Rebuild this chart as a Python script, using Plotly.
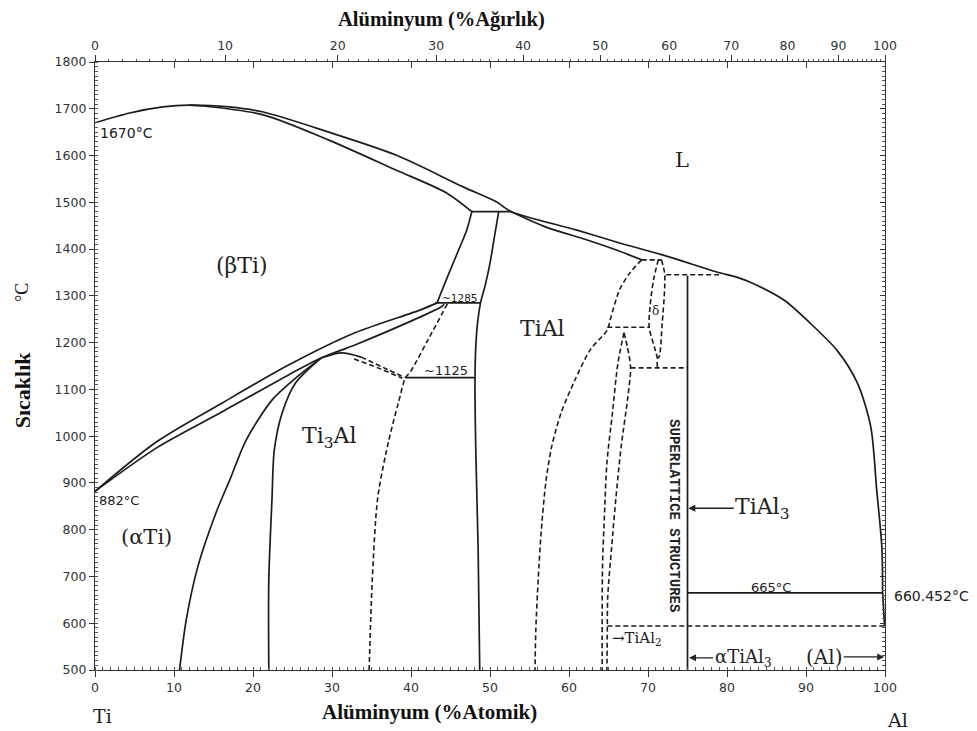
import plotly.graph_objects as go

# ---------------- data (at.% Al, temperature in C) ----------------
liq_x = [0, 4.4, 8.6, 11.9, 17.0, 21.3, 29.6, 38.1, 46.6, 50.8, 52.7, 60.9, 66.4, 72.35,
         78.7, 81.2, 82.8, 87.2, 90.5, 93.9, 96.5, 98.2, 98.95, 99.6, 99.7]
liq_T = [1670, 1691, 1704, 1708, 1704, 1693, 1650, 1601, 1533, 1501, 1480, 1441, 1413, 1385,
         1351, 1340, 1330, 1291, 1242, 1184, 1114, 1020, 885, 763, 665]

bsol_x = [11.9, 13.7, 21.3, 29.6, 38.1, 44.5, 47.7]
bsol_T = [1708, 1706, 1687, 1633, 1569, 1520, 1480]

peri_x = [47.7, 52.7]
peri_T = [1480, 1480]

asol_x = [52.7, 57.1, 62.2, 66.0, 69.2]
asol_T = [1480, 1447, 1420, 1398, 1377]

h1377_x = [69.2, 71.7]
h1377_T = [1377, 1377]

dl_x = [71.3, 70.7, 70.25, 70.15, 70.8, 71.2]
dl_T = [1377, 1334, 1276, 1233, 1191, 1167]

dr_x = [71.7, 72.1, 72.1, 71.8, 71.4, 71.2, 71.2]
dr_T = [1377, 1349, 1313, 1242, 1169, 1167, 1146]

h1345_x = [72.3, 79.0]
h1345_T = [1345, 1345]

tial3_x = [75, 75]
tial3_T = [1343, 500]

h1150_x = [67.8, 75]
h1150_T = [1146, 1146]

h1233_x = [64.85, 70.15]
h1233_T = [1233, 1233]

tialr_x = [69.2, 67.7, 66.4, 65.2, 64.85, 62.7, 60.75, 59.0, 57.8, 57.1, 56.5, 56.1, 55.8, 55.7]
tialr_T = [1377, 1349, 1313, 1248, 1227, 1185, 1120, 1050, 977, 906, 800, 693, 586, 500]

t2l_x = [66.96, 66.2, 65.5, 64.8, 64.5, 64.25, 64.2, 64.2]
t2l_T = [1221, 1157, 1050, 943, 836, 729, 622, 500]

t2r_x = [66.96, 67.4, 67.8, 67.45, 66.6, 65.95, 65.4, 64.9, 64.85, 64.8]
t2r_T = [1221, 1190, 1146, 1084, 977, 870, 763, 656, 586, 500]

h594_x = [64.85, 100]
h594_T = [594, 594]

h665_x = [75, 99.7]
h665_T = [665, 665]

alsolv_x = [99.7, 99.95]
alsolv_T = [665, 594]

aup_x = [47.7, 47.06, 46.2, 44.6, 43.7, 43.3]
aup_T = [1480, 1441, 1405, 1340, 1302, 1285]

h1285_x = [43.1, 48.8]
h1285_T = [1285, 1285]

tiall_x = [51.1, 50.5, 50.0, 49.4, 48.8, 48.4, 48.2, 48.1, 48.2, 48.5, 48.7]
tiall_T = [1480, 1420, 1370, 1323, 1285, 1238, 1191, 1120, 970, 757, 500]

h1125_x = [39.3, 48.1]
h1125_T = [1125, 1125]

a2d_x = [44.6, 42.15, 39.9, 39.3, 38.4, 37.2, 35.8, 35.1, 34.7]
a2d_T = [1283, 1206, 1137, 1125, 1071, 992, 870, 693, 500]

btr_x = [0, 7.8, 16.1, 24.5, 32.9, 41.2, 43.3]
btr_T = [882, 988, 1071, 1152, 1221, 1270, 1285]

atr_x = [0, 7.8, 16.1, 24.5, 28.6, 32.9, 41.2, 43.8, 44.2]
atr_T = [882, 975, 1052, 1131, 1167, 1195, 1255, 1276, 1282]

dome_x = [28.6, 31.2, 33.7]
dome_T = [1167, 1178, 1169]

domed1_x = [33.7, 37.1, 39.3]
domed1_T = [1169, 1142, 1125]

domed2_x = [32.8, 35.8, 38.9]
domed2_T = [1165, 1146, 1124]

a2l_x = [28.6, 25.6, 22.4, 19.15, 17.05, 15.45, 13.0, 11.55, 10.7]
a2l_T = [1167, 1127, 1077, 992, 906, 842, 720, 607, 500]

a2r_x = [28.6, 25.4, 23.7, 22.7, 22.4, 22.0, 22.0]
a2r_T = [1167, 1114, 1050, 971, 864, 693, 500]

solid_lines = [(liq_x, liq_T), (bsol_x, bsol_T), (peri_x, peri_T), (asol_x, asol_T),
               (tial3_x, tial3_T), (h665_x, h665_T), (alsolv_x, alsolv_T),
               (aup_x, aup_T), (h1285_x, h1285_T), (tiall_x, tiall_T), (h1125_x, h1125_T),
               (btr_x, btr_T), (atr_x, atr_T), (dome_x, dome_T), (a2l_x, a2l_T), (a2r_x, a2r_T)]
dashed_lines = [(h1377_x, h1377_T), (dl_x, dl_T), (dr_x, dr_T), (h1345_x, h1345_T),
                (h1150_x, h1150_T), (h1233_x, h1233_T), (tialr_x, tialr_T),
                (t2l_x, t2l_T), (t2r_x, t2r_T), (h594_x, h594_T), (a2d_x, a2d_T),
                (domed1_x, domed1_T), (domed2_x, domed2_T)]

# top axis: weight % Al
wt_major = list(range(0, 101, 10))
wt_minor = list(range(0, 101, 1))
MW_AL, MW_TI = 26.98, 47.87


def wt_to_at(w):
    if w >= 100:
        return 100.0
    a = w / MW_AL
    b = (100 - w) / MW_TI
    return a / (a + b) * 100


at_major = list(range(0, 101, 10))
T_major = list(range(500, 1801, 100))

# ---------------- figure ----------------
fig = go.Figure()
LC = "#1c1c1c"
for xs, ts in solid_lines:
    fig.add_trace(go.Scatter(x=xs, y=ts, mode="lines",
                             line=dict(color=LC, width=1.7, shape="spline", smoothing=0.8),
                             hoverinfo="skip", showlegend=False))
for xs, ts in dashed_lines:
    fig.add_trace(go.Scatter(x=xs, y=ts, mode="lines",
                             line=dict(color=LC, width=1.6, dash="5px,3px", shape="spline",
                                       smoothing=0.8),
                             hoverinfo="skip", showlegend=False))

# invisible carriers for secondary axes
fig.add_trace(go.Scatter(x=[0, 100], y=[500, 500], xaxis="x2", yaxis="y", mode="lines",
                         line=dict(width=0), hoverinfo="skip", showlegend=False))
fig.add_trace(go.Scatter(x=[0, 100], y=[500, 500], xaxis="x3", yaxis="y", mode="lines",
                         line=dict(width=0), hoverinfo="skip", showlegend=False))
fig.add_trace(go.Scatter(x=[0, 100], y=[500, 500], xaxis="x", yaxis="y2", mode="lines",
                         line=dict(width=0), hoverinfo="skip", showlegend=False))

TICKFONT = dict(family="DejaVu Sans", size=12.5, color="#333")
AX = dict(showgrid=False, zeroline=False, showline=True, linecolor="#333", linewidth=1.3,
          tickcolor="#333", tickfont=TICKFONT)

fig.update_layout(
    width=969, height=723,
    margin=dict(l=87, r=92, t=54, b=61),
    paper_bgcolor="white", plot_bgcolor="white",
    xaxis=dict(range=[0, 100], tickvals=at_major, ticks="outside", ticklen=6, tickwidth=1.2,
               minor=dict(dtick=1, ticks="inside", ticklen=3, tickcolor="#555", tickwidth=1),
               **AX),
    xaxis2=dict(range=[0, 100], overlaying="x", side="top",
                tickvals=[wt_to_at(w) for w in wt_major], ticktext=[str(w) for w in wt_major],
                ticks="outside", ticklen=6, tickwidth=1.2,
                minor=dict(tickvals=[wt_to_at(w) for w in wt_minor], ticks="outside",
                           ticklen=2, tickcolor="#555", tickwidth=1),
                **AX),
    xaxis3=dict(range=[0, 100], overlaying="x", side="top", tickvals=at_major[1:-1],
                showticklabels=False, ticks="inside", ticklen=6, tickwidth=1.2,
                showgrid=False, zeroline=False, showline=False, tickcolor="#333"),
    yaxis=dict(range=[500, 1800], tickvals=T_major, ticks="outside", ticklen=5, tickwidth=1.2,
               minor=dict(dtick=10, ticks="inside", ticklen=3, tickcolor="#555", tickwidth=1),
               **AX),
    yaxis2=dict(range=[500, 1800], overlaying="y", side="right", tickvals=T_major,
                showticklabels=False, ticks="inside", ticklen=5, tickwidth=1.2,
                minor=dict(dtick=10, ticks="inside", ticklen=3, tickcolor="#555", tickwidth=1),
                **AX),
)

SERIF = "Liberation Serif"
SANS = "DejaVu Sans"
MONO = "Liberation Mono"
DSERIF = "DejaVu Serif"


def label(x, y, text, size=18, family=DSERIF, **kw):
    fig.add_annotation(x=x, y=y, text=text, showarrow=False,
                       font=dict(family=family, size=size, color="#222"), **kw)


label(0.4, 1648, "1670°C", 14, SANS, xanchor="left")
label(0.3, 862, "882°C", 13, SANS, xanchor="left")
label(18.6, 1364, "(βTi)", 22)
label(6.5, 785, "(αTi)", 21)
label(29.6, 998, "Ti<sub>3</sub>Al", 22)
label(56.6, 1231, "TiAl", 22)
label(74.3, 1590, "L", 21)
label(70.9, 1268, "δ", 12)
label(46.2, 1295, "~1285", 10.5, SANS)
label(44.4, 1140, "~1125", 13, SANS)
label(73.3, 831, "<b>SUPERLATTICE STRUCTURES</b>", 14, MONO, textangle=90)
label(85.6, 677, "665°C", 13, SANS)
label(100, 658, "660.452°C", 14, SANS, xanchor="left", xshift=7)
label(65.2, 568, "→TiAl<sub>2</sub>", 15, xanchor="left")

fig.add_annotation(x=75.1, y=846, ax=74, ay=0, text="TiAl<sub>3</sub>", showarrow=True,
                   arrowhead=2, arrowsize=1, arrowwidth=1.4, arrowcolor="#222",
                   font=dict(family=DSERIF, size=22, color="#222"))
fig.add_annotation(x=75.2, y=526, ax=54, ay=0, text="αTiAl<sub>3</sub>", showarrow=True,
                   arrowhead=2, arrowsize=1, arrowwidth=1.4, arrowcolor="#222",
                   font=dict(family=DSERIF, size=18, color="#222"))
fig.add_annotation(x=99.9, y=528, ax=-60, ay=0, text="(Al)", showarrow=True,
                   arrowhead=2, arrowsize=1, arrowwidth=1.4, arrowcolor="#222",
                   font=dict(family=DSERIF, size=20, color="#222"))

# axis titles & element labels
PA = dict(showarrow=False, xanchor="center", yanchor="middle")
fig.add_annotation(x=43.9, y=1.0707, yref="paper", text="<b>Alüminyum (%Ağırlık)</b>",
                   font=dict(family=SERIF, size=20.5, color="#111"), **PA)
fig.add_annotation(x=42.4, y=-0.069, yref="paper", text="<b>Alüminyum (%Atomik)</b>",
                   font=dict(family=SERIF, size=21, color="#111"), **PA)
fig.add_annotation(x=-0.0924, xref="paper", y=0.46, yref="paper",
                   text="<b>Sıcaklık</b>", textangle=-90,
                   font=dict(family=SERIF, size=22, color="#111"), **PA)
fig.add_annotation(x=-0.0924, xref="paper", y=0.62, yref="paper",
                   text="°C", textangle=-90,
                   font=dict(family=SERIF, size=18, color="#111"), **PA)
fig.add_annotation(x=1.0, y=-0.0757, yref="paper", text="Ti",
                   font=dict(family=DSERIF, size=19, color="#222"), **PA)
fig.add_annotation(x=1.0152, xref="paper", y=-0.082, yref="paper", text="Al",
                   font=dict(family=DSERIF, size=19, color="#222"), **PA)

fig.write_html("out.html")
